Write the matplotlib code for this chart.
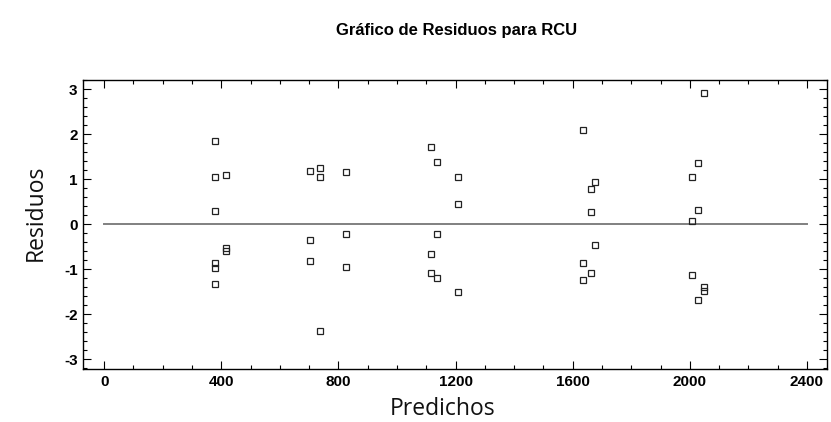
import matplotlib.pyplot as plt
from matplotlib.ticker import MultipleLocator

plt.rcParams['axes.unicode_minus'] = False

# predicted values and residuals, grouped by run
pred_1 = [380, 380, 380, 380, 380, 380, 417, 417, 417]
res_1 = [1.84, 1.04, 0.29, -0.85, -0.98, -1.32, 1.10, -0.53, -0.60]

pred_2 = [702, 702, 702, 736, 736, 736, 827, 827, 827]
res_2 = [1.18, -0.35, -0.81, 1.26, 1.04, -2.36, 1.15, -0.21, -0.94]

pred_3 = [1117, 1115, 1115, 1135, 1135, 1135, 1210, 1210, 1210]
res_3 = [1.72, -0.66, -1.09, 1.38, -0.21, -1.19, 1.04, 0.44, -1.50]

pred_4 = [1634, 1634, 1634, 1662, 1662, 1662, 1675, 1675]
res_4 = [2.09, -0.85, -1.24, 0.79, 0.28, -1.08, 0.93, -0.46]

pred_5 = [2006, 2006, 2006, 2029, 2029, 2029, 2047, 2047, 2047]
res_5 = [1.04, 0.07, -1.12, 1.35, 0.32, -1.68, 2.91, -1.40, -1.48]

x_ticks = [0, 400, 800, 1200, 1600, 2000, 2400]
y_ticks = [-3, -2, -1, 0, 1, 2, 3]

fig, ax = plt.subplots(figsize=(8.31, 4.22), dpi=100)
fig.subplots_adjust(left=0.1, right=0.995, top=0.81, bottom=0.125)

ax.plot([0, 2400], [0, 0], color='#808080', lw=1.4, zorder=1)

for px, ry in [(pred_1, res_1), (pred_2, res_2), (pred_3, res_3),
               (pred_4, res_4), (pred_5, res_5)]:
    ax.plot(px, ry, 's', ms=3.8, mfc='none', mec='#222222', mew=0.9, zorder=2)

ax.set_xlim(-72, 2468)
ax.set_ylim(-3.22, 3.2)
ax.set_xticks(x_ticks)
ax.set_yticks(y_ticks)
ax.xaxis.set_minor_locator(MultipleLocator(100))
ax.yaxis.set_minor_locator(MultipleLocator(0.2))
ax.tick_params(which='both', direction='in', top=True, right=True, width=0.8)
ax.tick_params(which='major', length=6, pad=4)
ax.tick_params(which='minor', length=3)
for lab in ax.get_xticklabels() + ax.get_yticklabels():
    lab.set_fontfamily('Liberation Sans')
    lab.set_fontweight('bold')
    lab.set_fontsize(11)
for sp in ax.spines.values():
    sp.set_linewidth(1.0)

ax.set_xlabel('Predichos', fontsize=16.5, family='Open Sans', color='#111111')
ax.set_ylabel('Residuos', fontsize=16.5, family='Open Sans', color='#111111')
ax.xaxis.set_label_coords(0.483, -0.095)
ax.yaxis.set_label_coords(-0.047, 0.54)
fig.text(0.549, 0.927, 'Gráfico de Residuos para RCU', ha='center', va='center',
         fontsize=12, fontweight='bold', family='Liberation Sans')

fig.savefig('out.png')
